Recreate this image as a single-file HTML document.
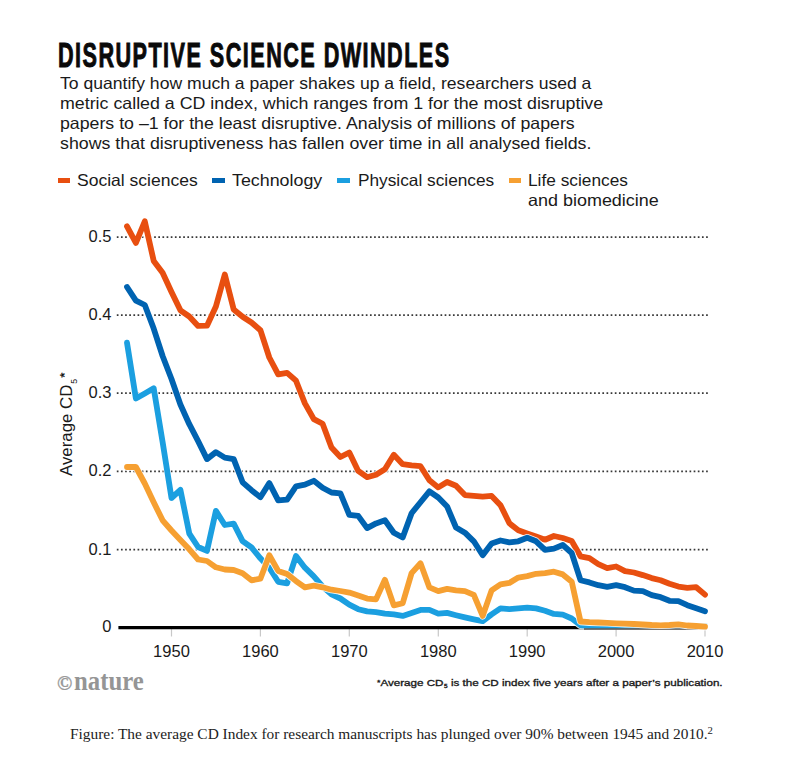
<!DOCTYPE html>
<html><head><meta charset="utf-8">
<style>
html,body{margin:0;padding:0;background:#fff;}
body{width:798px;height:766px;position:relative;overflow:hidden;font-family:"Liberation Sans",sans-serif;}
.t{position:absolute;white-space:nowrap;transform-origin:0 50%;}
sub{font-size:0.7em;vertical-align:-0.25em;line-height:0}
sup{font-size:0.7em;vertical-align:0.5em;line-height:0}
</style></head><body>
<svg width="798" height="766" style="position:absolute;left:0;top:0">
<line x1="116.8" y1="237.2" x2="708" y2="237.2" stroke="#383838" stroke-width="1.7" stroke-dasharray="1.7 2.45"/>
<line x1="116.8" y1="315.2" x2="708" y2="315.2" stroke="#383838" stroke-width="1.7" stroke-dasharray="1.7 2.45"/>
<line x1="116.8" y1="393.2" x2="708" y2="393.2" stroke="#383838" stroke-width="1.7" stroke-dasharray="1.7 2.45"/>
<line x1="116.8" y1="471.3" x2="708" y2="471.3" stroke="#383838" stroke-width="1.7" stroke-dasharray="1.7 2.45"/>
<line x1="116.8" y1="549.6" x2="708" y2="549.6" stroke="#383838" stroke-width="1.7" stroke-dasharray="1.7 2.45"/>
<line x1="171.5" y1="628" x2="171.5" y2="636.5" stroke="#c8c8c8" stroke-width="1.2"/>
<line x1="260.4" y1="628" x2="260.4" y2="636.5" stroke="#c8c8c8" stroke-width="1.2"/>
<line x1="349.3" y1="628" x2="349.3" y2="636.5" stroke="#c8c8c8" stroke-width="1.2"/>
<line x1="438.3" y1="628" x2="438.3" y2="636.5" stroke="#c8c8c8" stroke-width="1.2"/>
<line x1="527.2" y1="628" x2="527.2" y2="636.5" stroke="#c8c8c8" stroke-width="1.2"/>
<line x1="616.1" y1="628" x2="616.1" y2="636.5" stroke="#c8c8c8" stroke-width="1.2"/>
<line x1="705.0" y1="628" x2="705.0" y2="636.5" stroke="#c8c8c8" stroke-width="1.2"/>
<line x1="118.4" y1="627.6" x2="707" y2="627.6" stroke="#000" stroke-width="3.3"/>
<path d="M127.0 226.4 L135.9 242.9 L144.8 221.3 L153.7 260.9 L162.6 272.7 L171.5 292.0 L180.4 310.3 L189.3 316.5 L198.1 325.9 L207.0 325.7 L215.9 306.5 L224.8 274.5 L233.7 309.5 L242.6 316.8 L251.5 322.5 L260.4 330.2 L269.3 357.5 L278.2 374.4 L287.1 372.8 L296.0 380.7 L304.9 403.4 L313.8 419.1 L322.6 423.8 L331.5 447.5 L340.4 457.0 L349.3 452.5 L358.2 470.9 L367.1 477.2 L376.0 474.8 L384.9 469.3 L393.8 454.8 L402.7 464.2 L411.6 465.4 L420.5 466.2 L429.4 480.3 L438.3 487.4 L447.1 482.0 L456.0 485.7 L464.9 495.1 L473.8 495.9 L482.7 496.6 L491.6 495.9 L500.5 505.2 L509.4 523.3 L518.3 530.3 L527.2 533.4 L536.1 536.6 L545.0 539.7 L553.9 536.0 L562.8 538.0 L571.7 541.0 L580.5 556.3 L589.4 558.2 L598.3 564.1 L607.2 568.1 L616.1 566.5 L625.0 571.1 L633.9 572.5 L642.8 575.1 L651.7 578.1 L660.6 580.2 L669.5 583.8 L678.4 586.6 L687.3 587.8 L696.2 587.2 L705.0 594.6" fill="none" stroke="#fff" stroke-width="7.4" stroke-linejoin="round" stroke-linecap="round" opacity="0.9"/>
<path d="M127.0 226.4 L135.9 242.9 L144.8 221.3 L153.7 260.9 L162.6 272.7 L171.5 292.0 L180.4 310.3 L189.3 316.5 L198.1 325.9 L207.0 325.7 L215.9 306.5 L224.8 274.5 L233.7 309.5 L242.6 316.8 L251.5 322.5 L260.4 330.2 L269.3 357.5 L278.2 374.4 L287.1 372.8 L296.0 380.7 L304.9 403.4 L313.8 419.1 L322.6 423.8 L331.5 447.5 L340.4 457.0 L349.3 452.5 L358.2 470.9 L367.1 477.2 L376.0 474.8 L384.9 469.3 L393.8 454.8 L402.7 464.2 L411.6 465.4 L420.5 466.2 L429.4 480.3 L438.3 487.4 L447.1 482.0 L456.0 485.7 L464.9 495.1 L473.8 495.9 L482.7 496.6 L491.6 495.9 L500.5 505.2 L509.4 523.3 L518.3 530.3 L527.2 533.4 L536.1 536.6 L545.0 539.7 L553.9 536.0 L562.8 538.0 L571.7 541.0 L580.5 556.3 L589.4 558.2 L598.3 564.1 L607.2 568.1 L616.1 566.5 L625.0 571.1 L633.9 572.5 L642.8 575.1 L651.7 578.1 L660.6 580.2 L669.5 583.8 L678.4 586.6 L687.3 587.8 L696.2 587.2 L705.0 594.6" fill="none" stroke="#e84f10" stroke-width="5.8" stroke-linejoin="round" stroke-linecap="round"/>
<path d="M127.0 287.0 L135.9 300.6 L144.8 305.0 L153.7 328.6 L162.6 356.0 L171.5 379.0 L180.4 404.5 L189.3 424.2 L198.1 441.1 L207.0 459.1 L215.9 452.1 L224.8 457.6 L233.7 459.1 L242.6 482.3 L251.5 490.2 L260.4 497.2 L269.3 483.1 L278.2 500.4 L287.1 499.6 L296.0 486.3 L304.9 484.7 L313.8 480.8 L322.6 487.8 L331.5 492.5 L340.4 493.3 L349.3 514.8 L358.2 515.9 L367.1 528.1 L376.0 523.4 L384.9 520.3 L393.8 532.8 L402.7 537.5 L411.6 513.2 L420.5 502.2 L429.4 491.3 L438.3 497.5 L447.1 506.5 L456.0 527.5 L464.9 532.7 L473.8 541.3 L482.7 555.2 L491.6 543.6 L500.5 540.5 L509.4 542.4 L518.3 541.3 L527.2 537.7 L536.1 541.3 L545.0 549.9 L553.9 548.6 L562.8 545.0 L571.7 553.0 L580.5 580.2 L589.4 582.4 L598.3 585.2 L607.2 586.8 L616.1 585.2 L625.0 587.2 L633.9 590.6 L642.8 591.2 L651.7 595.2 L660.6 597.2 L669.5 600.8 L678.4 601.2 L687.3 605.2 L696.2 608.2 L705.0 611.2" fill="none" stroke="#fff" stroke-width="7.4" stroke-linejoin="round" stroke-linecap="round" opacity="0.9"/>
<path d="M127.0 287.0 L135.9 300.6 L144.8 305.0 L153.7 328.6 L162.6 356.0 L171.5 379.0 L180.4 404.5 L189.3 424.2 L198.1 441.1 L207.0 459.1 L215.9 452.1 L224.8 457.6 L233.7 459.1 L242.6 482.3 L251.5 490.2 L260.4 497.2 L269.3 483.1 L278.2 500.4 L287.1 499.6 L296.0 486.3 L304.9 484.7 L313.8 480.8 L322.6 487.8 L331.5 492.5 L340.4 493.3 L349.3 514.8 L358.2 515.9 L367.1 528.1 L376.0 523.4 L384.9 520.3 L393.8 532.8 L402.7 537.5 L411.6 513.2 L420.5 502.2 L429.4 491.3 L438.3 497.5 L447.1 506.5 L456.0 527.5 L464.9 532.7 L473.8 541.3 L482.7 555.2 L491.6 543.6 L500.5 540.5 L509.4 542.4 L518.3 541.3 L527.2 537.7 L536.1 541.3 L545.0 549.9 L553.9 548.6 L562.8 545.0 L571.7 553.0 L580.5 580.2 L589.4 582.4 L598.3 585.2 L607.2 586.8 L616.1 585.2 L625.0 587.2 L633.9 590.6 L642.8 591.2 L651.7 595.2 L660.6 597.2 L669.5 600.8 L678.4 601.2 L687.3 605.2 L696.2 608.2 L705.0 611.2" fill="none" stroke="#0063b1" stroke-width="5.8" stroke-linejoin="round" stroke-linecap="round"/>
<path d="M127.0 342.7 L135.9 398.5 L144.8 393.5 L153.7 388.3 L162.6 442.0 L171.5 498.0 L180.4 489.8 L189.3 533.6 L198.1 547.0 L207.0 550.9 L215.9 510.9 L224.8 525.0 L233.7 523.6 L242.6 541.1 L251.5 547.4 L260.4 558.3 L269.3 567.7 L278.2 581.8 L287.1 583.4 L296.0 556.0 L304.9 567.7 L313.8 576.3 L322.6 586.5 L331.5 594.4 L340.4 598.5 L349.3 604.7 L358.2 609.2 L367.1 611.4 L376.0 612.2 L384.9 613.7 L393.8 614.4 L402.7 615.9 L411.6 612.9 L420.5 609.9 L429.4 609.9 L438.3 613.7 L447.1 612.9 L456.0 615.2 L464.9 617.4 L473.8 619.4 L482.7 621.2 L491.6 614.4 L500.5 608.4 L509.4 609.2 L518.3 608.4 L527.2 607.7 L536.1 608.4 L545.0 610.7 L553.9 613.9 L562.8 614.6 L571.7 618.5 L580.5 625.3 L589.4 625.8 L598.3 625.8 L607.2 625.8 L616.1 625.8 L625.0 625.8 L633.9 625.8 L642.8 625.8 L651.7 625.8 L660.6 625.8 L669.5 625.8 L678.4 625.8 L687.3 625.8 L696.2 625.8 L705.0 625.8" fill="none" stroke="#fff" stroke-width="7.4" stroke-linejoin="round" stroke-linecap="round" opacity="0.9"/>
<path d="M127.0 342.7 L135.9 398.5 L144.8 393.5 L153.7 388.3 L162.6 442.0 L171.5 498.0 L180.4 489.8 L189.3 533.6 L198.1 547.0 L207.0 550.9 L215.9 510.9 L224.8 525.0 L233.7 523.6 L242.6 541.1 L251.5 547.4 L260.4 558.3 L269.3 567.7 L278.2 581.8 L287.1 583.4 L296.0 556.0 L304.9 567.7 L313.8 576.3 L322.6 586.5 L331.5 594.4 L340.4 598.5 L349.3 604.7 L358.2 609.2 L367.1 611.4 L376.0 612.2 L384.9 613.7 L393.8 614.4 L402.7 615.9 L411.6 612.9 L420.5 609.9 L429.4 609.9 L438.3 613.7 L447.1 612.9 L456.0 615.2 L464.9 617.4 L473.8 619.4 L482.7 621.2 L491.6 614.4 L500.5 608.4 L509.4 609.2 L518.3 608.4 L527.2 607.7 L536.1 608.4 L545.0 610.7 L553.9 613.9 L562.8 614.6 L571.7 618.5 L580.5 625.3 L589.4 625.8 L598.3 625.8 L607.2 625.8 L616.1 625.8 L625.0 625.8 L633.9 625.8 L642.8 625.8 L651.7 625.8 L660.6 625.8 L669.5 625.8 L678.4 625.8 L687.3 625.8 L696.2 625.8 L705.0 625.8" fill="none" stroke="#1b9fe0" stroke-width="5.8" stroke-linejoin="round" stroke-linecap="round"/>
<line x1="584" y1="629.0" x2="707" y2="629.0" stroke="#555" stroke-width="1.3"/>
<path d="M127.0 467.0 L135.9 467.0 L144.8 483.5 L153.7 502.3 L162.6 520.3 L171.5 530.5 L180.4 539.9 L189.3 549.3 L198.1 559.5 L207.0 561.0 L215.9 567.3 L224.8 569.5 L233.7 570.0 L242.6 573.2 L251.5 580.3 L260.4 578.7 L269.3 555.2 L278.2 570.9 L287.1 574.0 L296.0 581.1 L304.9 587.3 L313.8 585.7 L322.6 587.3 L331.5 589.7 L340.4 591.0 L349.3 592.6 L358.2 595.6 L367.1 598.6 L376.0 599.4 L384.9 579.8 L393.8 605.4 L402.7 603.2 L411.6 573.1 L420.5 563.3 L429.4 587.4 L438.3 591.1 L447.1 588.9 L456.0 590.4 L464.9 591.1 L473.8 594.9 L482.7 615.9 L491.6 590.4 L500.5 584.4 L509.4 582.9 L518.3 577.6 L527.2 576.1 L536.1 573.8 L545.0 573.1 L553.9 571.7 L562.8 574.4 L571.7 581.7 L580.5 621.5 L589.4 622.2 L598.3 622.5 L607.2 622.9 L616.1 623.3 L625.0 623.7 L633.9 624.0 L642.8 624.5 L651.7 625.0 L660.6 625.3 L669.5 625.0 L678.4 624.3 L687.3 625.5 L696.2 626.0 L705.0 626.7" fill="none" stroke="#fff" stroke-width="7.4" stroke-linejoin="round" stroke-linecap="round" opacity="0.9"/>
<path d="M127.0 467.0 L135.9 467.0 L144.8 483.5 L153.7 502.3 L162.6 520.3 L171.5 530.5 L180.4 539.9 L189.3 549.3 L198.1 559.5 L207.0 561.0 L215.9 567.3 L224.8 569.5 L233.7 570.0 L242.6 573.2 L251.5 580.3 L260.4 578.7 L269.3 555.2 L278.2 570.9 L287.1 574.0 L296.0 581.1 L304.9 587.3 L313.8 585.7 L322.6 587.3 L331.5 589.7 L340.4 591.0 L349.3 592.6 L358.2 595.6 L367.1 598.6 L376.0 599.4 L384.9 579.8 L393.8 605.4 L402.7 603.2 L411.6 573.1 L420.5 563.3 L429.4 587.4 L438.3 591.1 L447.1 588.9 L456.0 590.4 L464.9 591.1 L473.8 594.9 L482.7 615.9 L491.6 590.4 L500.5 584.4 L509.4 582.9 L518.3 577.6 L527.2 576.1 L536.1 573.8 L545.0 573.1 L553.9 571.7 L562.8 574.4 L571.7 581.7 L580.5 621.5 L589.4 622.2 L598.3 622.5 L607.2 622.9 L616.1 623.3 L625.0 623.7 L633.9 624.0 L642.8 624.5 L651.7 625.0 L660.6 625.3 L669.5 625.0 L678.4 624.3 L687.3 625.5 L696.2 626.0 L705.0 626.7" fill="none" stroke="#f6a032" stroke-width="5.8" stroke-linejoin="round" stroke-linecap="round"/>
</svg>
<div class="t" style="left:57.90px;top:38.15px;font-family:'Liberation Sans';font-weight:bold;font-size:35.5px;height:35.5px;line-height:35.5px;color:#0a0a0a;-webkit-text-stroke:1.0px #0a0a0a;transform:scaleX(0.6090);"><span style='letter-spacing:2.4px'>DISRUPTIVE SCIENCE DWINDLE</span>S</div>
<div class="t" style="left:59.50px;top:74.53px;font-family:'Liberation Sans';font-weight:normal;font-size:16.5px;height:16.5px;line-height:16.5px;color:#1a1a1a;transform:scaleX(1.0650);">To quantify how much a paper shakes up a field, researchers used a</div>
<div class="t" style="left:59.50px;top:94.83px;font-family:'Liberation Sans';font-weight:normal;font-size:16.5px;height:16.5px;line-height:16.5px;color:#1a1a1a;transform:scaleX(1.0789);">metric called a CD index, which ranges from 1 for the most disruptive</div>
<div class="t" style="left:59.50px;top:115.03px;font-family:'Liberation Sans';font-weight:normal;font-size:16.5px;height:16.5px;line-height:16.5px;color:#1a1a1a;transform:scaleX(1.0751);">papers to –1 for the least disruptive. Analysis of millions of papers</div>
<div class="t" style="left:59.50px;top:135.23px;font-family:'Liberation Sans';font-weight:normal;font-size:16.5px;height:16.5px;line-height:16.5px;color:#1a1a1a;transform:scaleX(1.0770);">shows that disruptiveness has fallen over time in all analysed fields.</div>
<div class="t" style="left:76.80px;top:171.53px;font-family:'Liberation Sans';font-weight:normal;font-size:16.5px;height:16.5px;line-height:16.5px;color:#1a1a1a;transform:scaleX(1.0621);">Social sciences</div>
<div class="t" style="left:232.30px;top:171.53px;font-family:'Liberation Sans';font-weight:normal;font-size:16.5px;height:16.5px;line-height:16.5px;color:#1a1a1a;transform:scaleX(1.0816);">Technology</div>
<div class="t" style="left:357.60px;top:171.53px;font-family:'Liberation Sans';font-weight:normal;font-size:16.5px;height:16.5px;line-height:16.5px;color:#1a1a1a;transform:scaleX(1.0458);">Physical sciences</div>
<div class="t" style="left:528.20px;top:171.53px;font-family:'Liberation Sans';font-weight:normal;font-size:16.5px;height:16.5px;line-height:16.5px;color:#1a1a1a;transform:scaleX(1.0473);">Life sciences</div>
<div class="t" style="left:528.20px;top:191.63px;font-family:'Liberation Sans';font-weight:normal;font-size:16.5px;height:16.5px;line-height:16.5px;color:#1a1a1a;transform:scaleX(1.0884);">and biomedicine</div>
<div class="t" style="left:74.00px;top:668.31px;font-family:'Liberation Serif';font-weight:bold;font-size:26.5px;height:26.5px;line-height:26.5px;color:#959595;transform:scaleX(0.9355);">nature</div>
<div class="t" style="left:57.20px;top:673.01px;font-family:'Liberation Serif';font-weight:bold;font-size:21px;height:21px;line-height:21px;color:#999;-webkit-text-stroke:0.3px #999;transform:scaleX(0.9680);">©</div>
<div class="t" style="left:376.80px;top:677.60px;font-family:'Liberation Sans';font-weight:normal;font-size:9.8px;height:9.8px;line-height:9.8px;color:#1a1a1a;-webkit-text-stroke:0.35px #1a1a1a;transform:scaleX(1.1869);"><span style='font-size:0.75em;vertical-align:0.15em'>*</span>Average CD<span style='font-size:0.55em;vertical-align:-0.45em;margin-left:0.5px'>5</span> is the CD index five years after a paper’s publication.</div>
<div class="t" style="left:69.50px;top:726.32px;font-family:'Liberation Serif';font-weight:normal;font-size:15.5px;height:15.5px;line-height:15.5px;color:#222;transform:scaleX(0.9920);">Figure: The average CD Index for research manuscripts has plunged over 90% between 1945 and 2010.<sup>2</sup></div>
<div class="t" style="left:88.46px;top:228.13px;font-family:'Liberation Sans';font-weight:normal;font-size:16.5px;height:16.5px;line-height:16.5px;color:#1a1a1a;">0.5</div>
<div class="t" style="left:88.46px;top:306.13px;font-family:'Liberation Sans';font-weight:normal;font-size:16.5px;height:16.5px;line-height:16.5px;color:#1a1a1a;">0.4</div>
<div class="t" style="left:88.46px;top:384.13px;font-family:'Liberation Sans';font-weight:normal;font-size:16.5px;height:16.5px;line-height:16.5px;color:#1a1a1a;">0.3</div>
<div class="t" style="left:88.46px;top:462.23px;font-family:'Liberation Sans';font-weight:normal;font-size:16.5px;height:16.5px;line-height:16.5px;color:#1a1a1a;">0.2</div>
<div class="t" style="left:88.46px;top:540.53px;font-family:'Liberation Sans';font-weight:normal;font-size:16.5px;height:16.5px;line-height:16.5px;color:#1a1a1a;">0.1</div>
<div class="t" style="left:102.21px;top:618.33px;font-family:'Liberation Sans';font-weight:normal;font-size:16.5px;height:16.5px;line-height:16.5px;color:#1a1a1a;">0</div>
<div class="t" style="left:153.11px;top:643.03px;font-family:'Liberation Sans';font-weight:normal;font-size:16.5px;height:16.5px;line-height:16.5px;color:#1a1a1a;">1950</div>
<div class="t" style="left:242.04px;top:643.03px;font-family:'Liberation Sans';font-weight:normal;font-size:16.5px;height:16.5px;line-height:16.5px;color:#1a1a1a;">1960</div>
<div class="t" style="left:330.97px;top:643.03px;font-family:'Liberation Sans';font-weight:normal;font-size:16.5px;height:16.5px;line-height:16.5px;color:#1a1a1a;">1970</div>
<div class="t" style="left:419.90px;top:643.03px;font-family:'Liberation Sans';font-weight:normal;font-size:16.5px;height:16.5px;line-height:16.5px;color:#1a1a1a;">1980</div>
<div class="t" style="left:508.83px;top:643.03px;font-family:'Liberation Sans';font-weight:normal;font-size:16.5px;height:16.5px;line-height:16.5px;color:#1a1a1a;">1990</div>
<div class="t" style="left:597.76px;top:643.03px;font-family:'Liberation Sans';font-weight:normal;font-size:16.5px;height:16.5px;line-height:16.5px;color:#1a1a1a;">2000</div>
<div class="t" style="left:686.69px;top:643.03px;font-family:'Liberation Sans';font-weight:normal;font-size:16.5px;height:16.5px;line-height:16.5px;color:#1a1a1a;">2010</div>
<div style="position:absolute;left:57.7px;top:177.6px;width:12.4px;height:5.1px;background:#e84f10"></div>
<div style="position:absolute;left:212.3px;top:177.6px;width:12.4px;height:5.1px;background:#0063b1"></div>
<div style="position:absolute;left:337.2px;top:177.6px;width:12.4px;height:5.1px;background:#1b9fe0"></div>
<div style="position:absolute;left:508.6px;top:177.6px;width:12.4px;height:5.1px;background:#f6a032"></div>
<div class="t" style="left:58.2px;top:476px;transform:rotate(-90deg) scaleX(1.02);transform-origin:0 0;font-size:16.5px;line-height:16.5px;height:16.5px;color:#1a1a1a">Average CD<span style="font-size:8.5px;position:relative;top:5px;margin-left:0.8px">5</span><span style="font-size:13px;font-weight:bold;position:relative;top:-3px;margin-left:1.2px">*</span></div>
</body></html>
